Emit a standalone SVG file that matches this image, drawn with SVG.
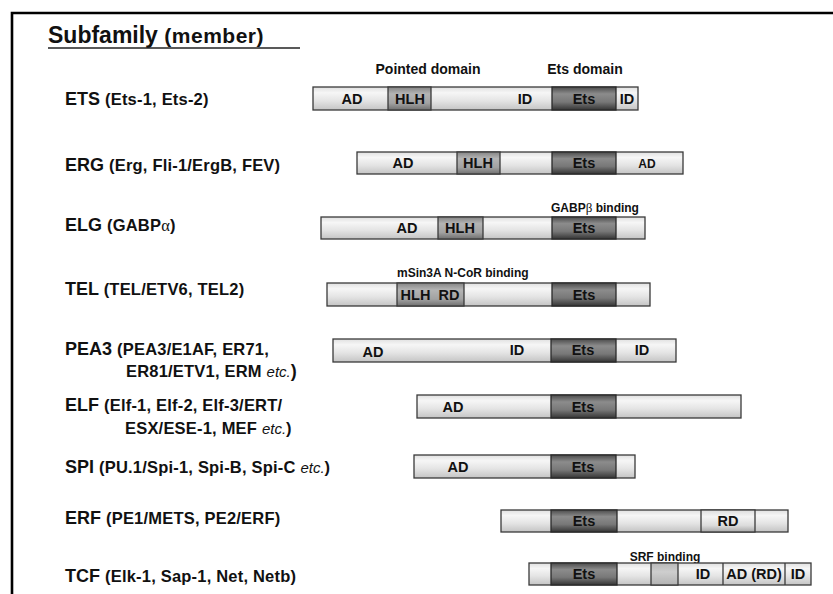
<svg xmlns="http://www.w3.org/2000/svg" width="833" height="594" viewBox="0 0 833 594">
<defs>
<style>
text{font-family:"Liberation Sans",Arial,Helvetica,sans-serif;font-weight:bold;fill:#111}
.title{font-size:23px}
.titlem{font-size:21px;letter-spacing:0.5px}
.name{font-size:18px}
.mem{font-size:16.5px;letter-spacing:0.2px}
.etc{font-style:italic;font-weight:normal;font-size:15px;letter-spacing:0}
.greek{font-family:"Liberation Serif","Times New Roman",serif;font-weight:normal}
.dom{font-size:14.5px;text-anchor:middle}
.sm{font-size:12px}
.hdr{font-size:14px;text-anchor:middle}
.bar{fill:url(#gLight);stroke:#3a3a3a;stroke-width:1.3}
.ets{fill:url(#gEts);stroke:#2a2a2a;stroke-width:1.3}
.hlh{fill:url(#gHlh);stroke:#3a3a3a;stroke-width:1.3}
.rd{fill:url(#gRd);stroke:#3a3a3a;stroke-width:1.3}
.grey{fill:url(#gGrey);stroke:#3a3a3a;stroke-width:1.3}
.div{stroke:#3a3a3a;stroke-width:1.3}
</style>
<linearGradient id="gLight" x1="0" y1="0" x2="0" y2="1">
<stop offset="0" stop-color="#e0e0e0"/><stop offset="0.25" stop-color="#f6f6f6"/><stop offset="0.6" stop-color="#e4e4e4"/><stop offset="1" stop-color="#c4c4c4"/>
</linearGradient>
<linearGradient id="gEts" x1="0" y1="0" x2="0" y2="1">
<stop offset="0" stop-color="#4c4c4c"/><stop offset="0.3" stop-color="#8c8c8c"/><stop offset="0.65" stop-color="#787878"/><stop offset="1" stop-color="#353535"/>
</linearGradient>
<linearGradient id="gHlh" x1="0" y1="0" x2="0" y2="1">
<stop offset="0" stop-color="#858585"/><stop offset="0.3" stop-color="#b4b4b4"/><stop offset="0.7" stop-color="#a2a2a2"/><stop offset="1" stop-color="#707070"/>
</linearGradient>
<linearGradient id="gRd" x1="0" y1="0" x2="0" y2="1">
<stop offset="0" stop-color="#dcdcdc"/><stop offset="0.3" stop-color="#f4f4f4"/><stop offset="0.7" stop-color="#dcdcdc"/><stop offset="1" stop-color="#a8a8a8"/>
</linearGradient>
<linearGradient id="gGrey" x1="0" y1="0" x2="0" y2="1">
<stop offset="0" stop-color="#b8b8b8"/><stop offset="0.4" stop-color="#cecece"/><stop offset="1" stop-color="#b2b2b2"/>
</linearGradient>
</defs>
<rect width="833" height="594" fill="#fff"/>
<path d="M12,594 V13 H833" fill="none" stroke="#000" stroke-width="2.6"/>

<g id="header">
<text class="title" x="48" y="43">Subfamily <tspan class="titlem">(member)</tspan></text>
<line x1="48" y1="48" x2="300" y2="48" stroke="#222" stroke-width="1.5"/>
<text class="hdr" x="428" y="74">Pointed domain</text>
<text class="hdr" x="585" y="74">Ets domain</text>
</g>

<g id="ETS">
<text class="name" x="65" y="105">ETS <tspan class="mem">(Ets-1, Ets-2)</tspan></text>
<rect class="bar" x="313" y="87" width="325" height="23"/>
<rect class="hlh" x="388" y="87" width="43" height="23"/>
<rect class="ets" x="552" y="87" width="64" height="23"/>
<text class="dom" x="352" y="104">AD</text>
<text class="dom" x="410" y="104">HLH</text>
<text class="dom" x="525" y="104">ID</text>
<text class="dom" x="584" y="104">Ets</text>
<text class="dom" x="627" y="104">ID</text>
</g>

<g id="ERG">
<text class="name" x="65" y="171">ERG <tspan class="mem">(Erg, Fli-1/ErgB, FEV)</tspan></text>
<rect class="bar" x="357" y="152" width="326" height="22"/>
<rect class="hlh" x="457" y="152" width="43" height="22"/>
<rect class="ets" x="552" y="152" width="64" height="22"/>
<text class="dom" x="403" y="168">AD</text>
<text class="dom" x="478" y="168">HLH</text>
<text class="dom" x="584" y="168">Ets</text>
<text class="sm" x="647" y="168" text-anchor="middle">AD</text>
</g>

<g id="ELG">
<text class="name" x="65" y="231">ELG <tspan class="mem">(GABP<tspan class="greek">α</tspan>)</tspan></text>
<text class="sm" x="551" y="212">GABP<tspan class="greek" font-size="13">β</tspan> binding</text>
<rect class="bar" x="321" y="217" width="324" height="22"/>
<rect class="hlh" x="438" y="217" width="45" height="22"/>
<rect class="ets" x="552" y="217" width="64" height="22"/>
<text class="dom" x="407" y="233">AD</text>
<text class="dom" x="460" y="233">HLH</text>
<text class="dom" x="584" y="233">Ets</text>
</g>

<g id="TEL">
<text class="name" x="65" y="295">TEL <tspan class="mem">(TEL/ETV6, TEL2)</tspan></text>
<text class="sm" x="397" y="277">mSin3A N-CoR binding</text>
<rect class="bar" x="327" y="283" width="323" height="23"/>
<rect class="hlh" x="397" y="283" width="67" height="23"/>
<rect class="ets" x="552" y="283" width="64" height="23"/>
<text class="dom" x="430" y="300" xml:space="preserve">HLH  RD</text>
<text class="dom" x="584" y="300">Ets</text>
</g>

<g id="PEA3">
<text class="name" x="65" y="355">PEA3 <tspan class="mem">(PEA3/E1AF, ER71,</tspan></text>
<text class="mem" x="126" y="377">ER81/ETV1, ERM <tspan class="etc">etc.</tspan><tspan font-size="18">)</tspan></text>
<rect class="bar" x="333" y="339" width="343" height="23"/>
<rect class="ets" x="551" y="339" width="65" height="23"/>
<text class="dom" x="373" y="357">AD</text>
<text class="dom" x="517" y="355">ID</text>
<text class="dom" x="583" y="355">Ets</text>
<text class="dom" x="642" y="355">ID</text>
</g>

<g id="ELF">
<text class="name" x="65" y="411">ELF <tspan class="mem">(Elf-1, Elf-2, Elf-3/ERT/</tspan></text>
<text class="mem" x="125" y="434">ESX/ESE-1, MEF <tspan class="etc">etc.</tspan>)</text>
<rect class="bar" x="417" y="395" width="324" height="23"/>
<rect class="ets" x="551" y="395" width="65" height="23"/>
<text class="dom" x="453" y="412">AD</text>
<text class="dom" x="583" y="412">Ets</text>
</g>

<g id="SPI">
<text class="name" x="65" y="473">SPI <tspan class="mem">(PU.1/Spi-1, Spi-B, Spi-C <tspan class="etc">etc.</tspan>)</tspan></text>
<rect class="bar" x="414" y="455" width="221" height="23"/>
<rect class="ets" x="551" y="455" width="65" height="23"/>
<text class="dom" x="458" y="472">AD</text>
<text class="dom" x="583" y="472">Ets</text>
</g>

<g id="ERF">
<text class="name" x="65" y="524">ERF <tspan class="mem">(PE1/METS, PE2/ERF)</tspan></text>
<rect class="bar" x="501" y="510" width="287" height="22"/>
<rect class="ets" x="551" y="510" width="66" height="22"/>
<rect class="rd" x="701" y="510" width="54" height="22"/>
<text class="dom" x="584" y="526">Ets</text>
<text class="dom" x="728" y="526">RD</text>
</g>

<g id="TCF">
<text class="name" x="65" y="582">TCF <tspan class="mem">(Elk-1, Sap-1, Net, Netb)</tspan></text>
<text class="sm" x="665" y="561" text-anchor="middle">SRF binding</text>
<rect class="bar" x="529" y="563" width="282" height="22"/>
<rect class="ets" x="551" y="563" width="66" height="22"/>
<rect class="grey" x="651" y="563" width="27" height="22"/>
<line class="div" x1="723" y1="563" x2="723" y2="585"/>
<line class="div" x1="785" y1="563" x2="785" y2="585"/>
<text class="dom" x="584" y="579">Ets</text>
<text class="dom" x="703" y="579">ID</text>
<text class="dom" x="754" y="579">AD (RD)</text>
<text class="dom" x="798" y="579">ID</text>
</g>
</svg>
